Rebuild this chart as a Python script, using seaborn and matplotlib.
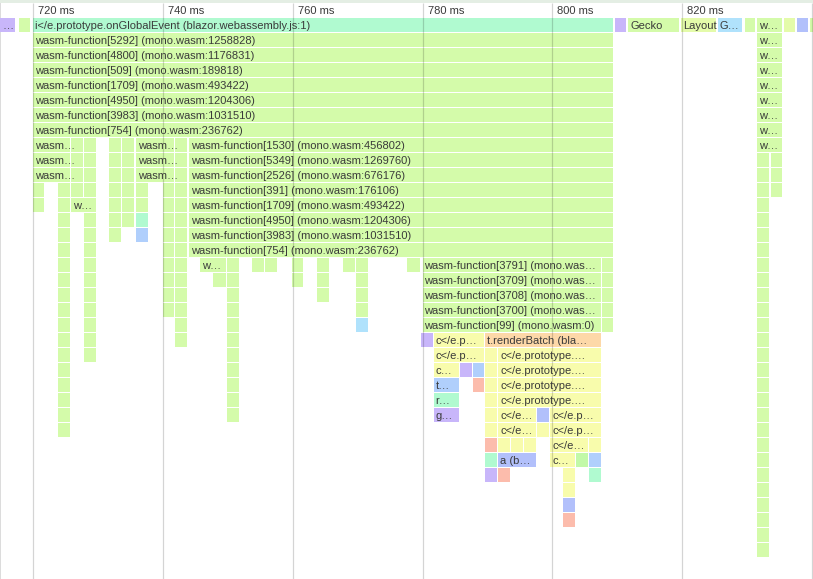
import matplotlib
matplotlib.use("Agg")
import matplotlib.pyplot as plt
from matplotlib.patches import Rectangle
import seaborn as sns
import pandas as pd

# ---------------- data (times in ms, one list per stack depth) ----------------
R = "right"  # marker replaced below by the right-hand wasm column block
row_00 = [(714.92, 717.38, "…", "P"), (717.85, 719.69, "", "G"),
          (720.00, 809.54, "i</e.prototype.onGlobalEvent (blazor.webassembly.js:1)", "M"),
          (809.69, 811.54, "", "P"), (811.69, 819.69, "Gecko", "G"),
          (819.85, 825.38, "Layout", "L"), (825.54, 829.38, "G…", "B1"),
          (829.69, 831.38, "", "G"), (831.54, 835.54, "w…", "G"),
          (835.69, 837.54, "", "L"), (837.69, 839.54, "", "B2"), (839.69, 841.00, "", "G")]
row_01 = [(720.00, 809.54, "wasm-function[5292] (mono.wasm:1258828)", "G"), (831.54, 835.54, "w…", "G")]
row_02 = [(720.00, 809.54, "wasm-function[4800] (mono.wasm:1176831)", "G"), (831.54, 835.54, "w…", "G")]
row_03 = [(720.00, 809.54, "wasm-function[509] (mono.wasm:189818)", "G"), (831.54, 835.54, "w…", "G")]
row_04 = [(720.00, 809.54, "wasm-function[1709] (mono.wasm:493422)", "G"), (831.54, 835.54, "w…", "G")]
row_05 = [(720.00, 809.54, "wasm-function[4950] (mono.wasm:1204306)", "G"), (831.54, 835.54, "w…", "G")]
row_06 = [(720.00, 809.54, "wasm-function[3983] (mono.wasm:1031510)", "G"), (831.54, 835.54, "w…", "G")]
row_07 = [(720.00, 809.54, "wasm-function[754] (mono.wasm:236762)", "G"), (831.54, 835.54, "w…", "G")]
row_08 = [(720.00, 725.85, "wasm…", "G"), (725.85, 727.85, "", "G"), (727.85, 729.85, "", "G"),
          (731.69, 733.69, "", "G"), (733.69, 735.69, "", "G"), (735.85, 741.85, "wasm…", "G"),
          (741.85, 743.85, "", "G"), (744.00, 809.54, "wasm-function[1530] (mono.wasm:456802)", "G"),
          (831.54, 835.54, "w…", "G")]
row_09 = [(720.00, 725.85, "wasm…", "G"), (725.85, 727.85, "", "G"), (727.85, 729.85, "", "G"),
          (731.69, 733.69, "", "G"), (733.69, 735.69, "", "G"), (735.85, 741.85, "wasm…", "G"),
          (741.85, 743.85, "", "G"), (744.00, 809.54, "wasm-function[5349] (mono.wasm:1269760)", "G"),
          (831.54, 833.54, "", "G"), (833.69, 835.54, "", "G")]
row_10 = [(720.00, 725.85, "wasm…", "G"), (725.85, 727.85, "", "G"), (727.85, 729.85, "", "G"),
          (731.69, 733.69, "", "G"), (733.69, 735.69, "", "G"), (735.85, 741.85, "wasm…", "G"),
          (741.85, 743.85, "", "G"), (744.00, 809.54, "wasm-function[2526] (mono.wasm:676176)", "G"),
          (831.54, 833.54, "", "G"), (833.69, 835.54, "", "G")]
row_11 = [(720.00, 721.85, "", "G"), (723.85, 725.85, "", "G"), (725.85, 727.85, "", "G"),
          (727.85, 729.85, "", "G"), (731.69, 733.69, "", "G"), (733.69, 735.69, "", "G"),
          (735.85, 737.85, "", "G"), (740.00, 741.85, "", "G"), (741.85, 743.85, "", "G"),
          (744.00, 809.54, "wasm-function[391] (mono.wasm:176106)", "G"),
          (831.54, 833.54, "", "G"), (833.69, 835.54, "", "G")]
row_12 = [(720.00, 721.85, "", "G"), (723.85, 725.85, "", "G"), (725.85, 729.85, "w…", "G"),
          (731.69, 733.69, "", "G"), (733.69, 735.69, "", "G"), (735.85, 737.85, "", "G"),
          (740.00, 741.85, "", "G"), (741.85, 743.85, "", "G"),
          (744.00, 809.54, "wasm-function[1709] (mono.wasm:493422)", "G"), R]
row_13 = [(723.85, 725.85, "", "G"), (727.85, 729.85, "", "G"), (731.69, 733.69, "", "G"),
          (733.69, 735.69, "", "G"), (735.85, 737.85, "", "M"), (740.00, 741.85, "", "G"),
          (741.85, 743.85, "", "G"), (744.00, 809.54, "wasm-function[4950] (mono.wasm:1204306)", "G"), R]
row_14 = [(723.85, 725.85, "", "G"), (727.85, 729.85, "", "G"), (731.69, 733.69, "", "G"),
          (735.85, 737.85, "", "B3"), (740.00, 741.85, "", "G"), (741.85, 743.85, "", "G"),
          (744.00, 809.54, "wasm-function[3983] (mono.wasm:1031510)", "G"), R]
row_15 = [(723.85, 725.85, "", "G"), (727.85, 729.85, "", "G"), (740.00, 741.85, "", "G"),
          (741.85, 743.85, "", "G"), (744.00, 809.54, "wasm-function[754] (mono.wasm:236762)", "G"), R]
row_16 = [(723.85, 725.85, "", "G"), (727.85, 729.85, "", "G"), (740.00, 741.85, "", "G"),
          (741.85, 743.85, "", "G"), (745.69, 749.85, "w…", "G"), (749.85, 751.85, "", "G"),
          (753.69, 755.69, "", "G"), (755.69, 757.69, "", "G"), (759.85, 761.69, "", "G"),
          (763.69, 765.69, "", "G"), (767.69, 769.69, "", "G"), (769.69, 771.69, "", "G"),
          (777.54, 779.69, "", "G"), (780.00, 807.69, "wasm-function[3791] (mono.was…", "G"),
          (807.69, 809.54, "", "G"), R]
row_17 = [(723.85, 725.85, "", "G"), (727.85, 729.85, "", "G"), (740.00, 741.85, "", "G"),
          (741.85, 743.85, "", "G"), (747.69, 749.85, "", "G"), (749.85, 751.85, "", "G"),
          (759.85, 761.69, "", "G"), (763.69, 765.69, "", "G"), (769.69, 771.69, "", "G"),
          (780.00, 807.69, "wasm-function[3709] (mono.was…", "G"), (807.69, 809.54, "", "G"), R]
row_18 = [(723.85, 725.85, "", "G"), (727.85, 729.85, "", "G"), (740.00, 741.85, "", "G"),
          (741.85, 743.85, "", "G"), (749.85, 751.85, "", "G"), (763.69, 765.69, "", "G"),
          (769.69, 771.69, "", "G"), (780.00, 807.69, "wasm-function[3708] (mono.was…", "G"),
          (807.69, 809.54, "", "G"), R]
row_19 = [(723.85, 725.85, "", "G"), (727.85, 729.85, "", "G"), (740.00, 741.85, "", "G"),
          (741.85, 743.85, "", "G"), (749.85, 751.85, "", "G"), (769.69, 771.69, "", "G"),
          (780.00, 807.69, "wasm-function[3700] (mono.was…", "G"), (807.69, 809.54, "", "G"), R]
row_20 = [(723.85, 725.85, "", "G"), (727.85, 729.85, "", "G"), (741.85, 743.85, "", "G"),
          (749.85, 751.85, "", "G"), (769.69, 771.69, "", "B1"),
          (780.00, 807.69, "wasm-function[99] (mono.wasm:0)", "G"), (807.69, 809.54, "", "G"), R]
row_21 = [(723.85, 725.85, "", "G"), (727.85, 729.85, "", "G"), (741.85, 743.85, "", "G"),
          (749.85, 751.85, "", "G"), (779.69, 781.69, "", "P"), (781.69, 789.69, "c</e.p…", "Y"),
          (789.69, 807.69, "t.renderBatch (bla…", "O"), R]
row_22 = [(723.85, 725.85, "", "G"), (727.85, 729.85, "", "G"), (749.85, 751.85, "", "G"),
          (781.69, 789.69, "c</e.p…", "Y"), (789.69, 791.69, "", "Y"),
          (791.69, 807.69, "c</e.prototype.…", "Y"), R]
row_23 = [(723.85, 725.85, "", "G"), (749.85, 751.85, "", "G"), (781.69, 785.69, "c…", "Y"),
          (785.69, 787.69, "", "P"), (787.69, 789.69, "", "B3"), (789.69, 791.69, "", "Y"),
          (791.69, 807.69, "c</e.prototype.…", "Y"), R]
row_24 = [(723.85, 725.85, "", "G"), (749.85, 751.85, "", "G"), (781.69, 785.69, "t…", "B3"),
          (787.69, 789.69, "", "S"), (789.69, 791.69, "", "Y"),
          (791.69, 807.69, "c</e.prototype.…", "Y"), R]
row_25 = [(723.85, 725.85, "", "G"), (749.85, 751.85, "", "G"), (781.69, 785.69, "r…", "M"),
          (789.69, 791.69, "", "Y"), (791.69, 807.69, "c</e.prototype.…", "Y"), R]
row_26 = [(723.85, 725.85, "", "G"), (749.85, 751.85, "", "G"), (781.69, 785.69, "g…", "P"),
          (789.69, 791.69, "", "Y"), (791.69, 797.69, "c</e…", "Y"), (797.69, 799.69, "", "B2"),
          (799.69, 807.69, "c</e.p…", "Y"), R]
row_27 = [(723.85, 725.85, "", "G"), (789.69, 791.69, "", "Y"), (791.69, 797.69, "c</e…", "Y"),
          (797.69, 799.69, "", "Y"), (799.69, 807.69, "c</e.p…", "Y"), R]
row_28 = [(789.69, 791.69, "", "S"), (791.69, 793.69, "", "Y"), (793.69, 795.69, "", "Y"),
          (795.69, 797.69, "", "Y"), (799.69, 805.69, "c</e…", "Y"), (805.69, 807.69, "", "Y"), R]
row_29 = [(789.69, 791.69, "", "M"), (791.69, 797.69, "a (b…", "B2"), (799.69, 803.69, "c…", "Y"),
          (803.69, 805.69, "", "G2"), (805.69, 807.69, "", "B3"), R]
row_30 = [(789.69, 791.69, "", "P"), (791.69, 793.69, "", "S"), (801.69, 803.69, "", "Y"),
          (805.69, 807.69, "", "M"), R]
row_31 = [(801.69, 803.69, "", "Y"), R]
row_32 = [(801.69, 803.69, "", "B2"), R]
row_33 = [(801.69, 803.69, "", "S"), R]
row_34 = [R]
row_35 = [R]
right_block = (831.54, 833.54, "", "G")

tick_ms = [720, 740, 760, 780, 800, 820]
tick_labels = ["720 ms", "740 ms", "760 ms", "780 ms", "800 ms", "820 ms"]

colors = {"G": "#d4fbaa", "M": "#b0fad0", "P": "#c8b6fa", "Y": "#f8fcac", "O": "#fdd8a8",
          "B1": "#b0e2fc", "B2": "#b2c0fb", "B3": "#b0cffc", "S": "#fcbcac", "L": "#e4fbaa",
          "G2": "#c2f9a8"}

rows = [row_00, row_01, row_02, row_03, row_04, row_05, row_06, row_07, row_08, row_09,
        row_10, row_11, row_12, row_13, row_14, row_15, row_16, row_17, row_18, row_19,
        row_20, row_21, row_22, row_23, row_24, row_25, row_26, row_27, row_28, row_29,
        row_30, row_31, row_32, row_33, row_34, row_35]

recs = []
for d, row in enumerate(rows):
    for item in row:
        if item == R:
            item = right_block
        s, e, lab, c = item
        recs.append(dict(depth=d, start=s, end=e, label=lab, cat=c))
df = pd.DataFrame(recs)

# ---------------- drawing ----------------
sns.set_theme(style="white")
plt.rcParams['font.family'] = ['Liberation Sans', 'DejaVu Sans']

W, H = 813, 579
PX_PER_MS = 6.49
X0 = 720 - 33.2 / PX_PER_MS
X1 = X0 + W / PX_PER_MS
ROW_PX, TOP_PX = 15.0, 18.0
Y_TOP = -TOP_PX / ROW_PX
Y_BOT = (H - TOP_PX) / ROW_PX

fig = plt.figure(figsize=(W / 100, H / 100), dpi=100)
ax = fig.add_axes([0, 0, 1, 1])
ax.set_xlim(X0, X1)
ax.set_ylim(Y_BOT, Y_TOP)
ax.axis("off")

gap = 1.0 / PX_PER_MS
pal = sns.color_palette([colors[c] for c in df["cat"]])
ax.barh(df["depth"], df["end"] - df["start"] - gap, left=df["start"],
        height=14 / 15, align="edge", color=pal, linewidth=0, zorder=2)

for _, r in df[df["label"] != ""].iterrows():
    ax.annotate(r["label"], xy=(r["start"], r["depth"] + 7 / 15), xytext=(1.3, -0.8),
                textcoords="offset points", ha="left", va="center", fontsize=8,
                color="#3a3a3a", zorder=4, annotation_clip=False)

# grid lines and header
y_line_top = (3 - TOP_PX) / ROW_PX
ax.vlines(tick_ms + [840], y_line_top, Y_BOT, color=(0, 0, 0, 0.17), linewidth=0.9, zorder=3)
for t, lab in zip(tick_ms, tick_labels):
    ax.annotate(lab, xy=(t, (10.5 - TOP_PX) / ROW_PX), xytext=(3.6, -0.3),
                textcoords="offset points", ha="left", va="center", fontsize=8,
                color="#3a3a3a", zorder=4)

ax.add_patch(Rectangle((0, 1 - 3 / H), 1, 3 / H, transform=ax.transAxes,
                       color="#e4eee4", linewidth=0, zorder=1))
ax.add_patch(Rectangle((0, 0), 1.2 / W, 1 - 3 / H, transform=ax.transAxes,
                       color="#dcdcdc", linewidth=0, zorder=1))

fig.savefig("out.png", dpi=100)
